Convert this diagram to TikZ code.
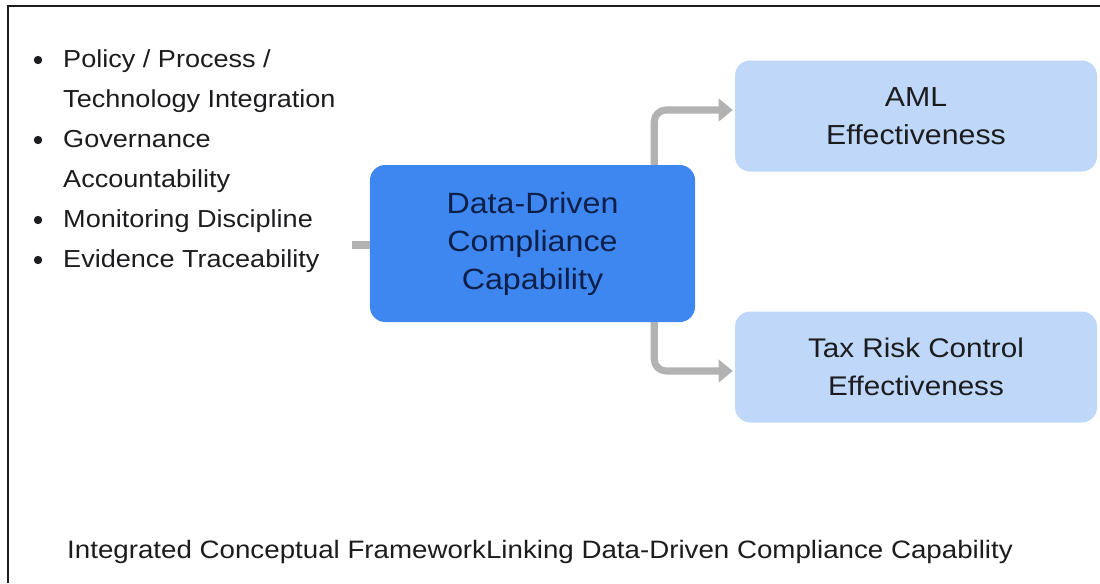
\documentclass[tikz,border=0pt]{standalone}
\usepackage{fontspec}
\setmainfont{Liberation Sans}[FakeStretch=1.1]
\usetikzlibrary{arrows.meta,calc}

\definecolor{coreblue}{RGB}{62,134,240}
\definecolor{paleblue}{RGB}{191,216,250}
\definecolor{flowgray}{RGB}{178,178,178}
\definecolor{inkdark}{RGB}{28,28,30}
\definecolor{inknavy}{RGB}{14,32,74}

\tikzset{
  corebox/.style={draw=none, fill=coreblue, rounded corners=13pt,
    minimum width=9.75cm, minimum height=4.71cm, inner sep=0pt},
  outbox/.style={draw=none, fill=paleblue, rounded corners=13pt,
    minimum width=10.86cm, minimum height=3.33cm, inner sep=0pt},
  boxtext/.style={align=center, text=inkdark},
  itemtext/.style={anchor=base west, align=left, text=inkdark,
    font=\fontsize{21}{34}\selectfont, inner sep=0pt},
  bulletdot/.style={circle, fill=inkdark, inner sep=0pt, minimum size=0.25cm},
  flow/.style={draw=flowgray, line width=6pt, rounded corners=10pt,
    -{Triangle[length=12pt, width=19pt]}},
  stub/.style={draw=flowgray, line width=6pt},
  frame/.style={draw=inkdark, line width=1.6pt}
}

\begin{document}
\begin{tikzpicture}[x=0.03cm, y=-0.03cm]
  \useasboundingbox (0,0) rectangle (1100,583);

  % outer frame (top and left edges)
  \draw[frame] (8,583) -- (8,6) -- (1100,6);

  % bullet list of inputs (base anchor sits on each item's last line)
  \node[bulletdot] (d1) at (38,60) {};
  \node[itemtext] (i1) at (63,107) {Policy / Process /\\Technology Integration};
  \node[bulletdot] (d2) at (38,140) {};
  \node[itemtext] (i2) at (63,187) {Governance\\Accountability};
  \node[bulletdot] (d3) at (38,220) {};
  \node[itemtext] (i3) at (63,227) {Monitoring Discipline};
  \node[bulletdot] (d4) at (38,260) {};
  \node[itemtext] (i4) at (63,267) {Evidence Traceability};

  % central capability box
  \node[corebox] (core) at (532.5,243.5) {};
  \node[boxtext, text=inknavy, font=\fontsize{25}{32.4}\selectfont]
    (coretext) at (core.center) {Data-Driven\\Compliance\\Capability};

  % outcome boxes
  \node[outbox] (aml) at (916,116) {};
  \node[boxtext, font=\fontsize{23.5}{32.4}\selectfont]
    (amltext) at (aml.center) {AML\\Effectiveness};
  \node[outbox] (tax) at (916,367) {};
  \node[boxtext, font=\fontsize{23}{32.4}\selectfont]
    (taxtext) at (tax.center) {Tax Risk Control\\Effectiveness};

  % connectors
  \coordinate (feed) at (352,245);
  \draw[stub] (feed) -- (core.west |- feed);
  \draw[flow] ($(core.north east)+(-41,0)$) |- ($(aml.west)+(-2,-6)$);
  \draw[flow] ($(core.south east)+(-41,0)$) |- ($(tax.west)+(-2,4)$);

  % caption
  \node[anchor=base west, inner sep=0pt, text=inkdark,
    font=\fontsize{21.5}{26}\selectfont] (caption) at (67,558)
    {Integrated Conceptual FrameworkLinking Data-Driven Compliance Capability};
\end{tikzpicture}
\end{document}
